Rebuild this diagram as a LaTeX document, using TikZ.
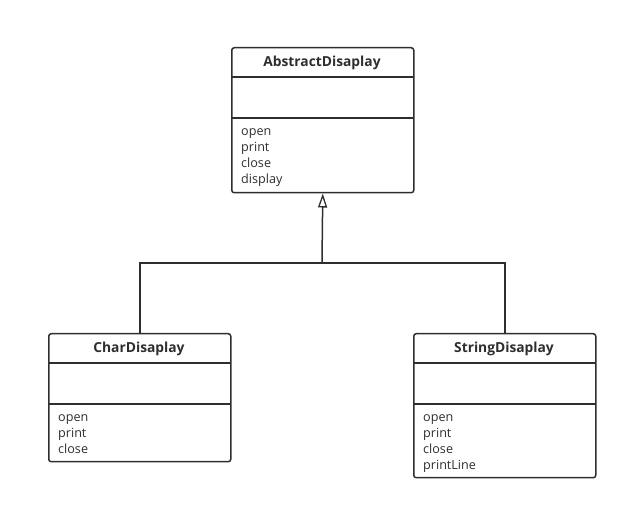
\documentclass[tikz,border=0pt]{standalone}
\usepackage{fontspec}
\setmainfont{Open Sans}
\usetikzlibrary{arrows.meta}

\begin{document}
\begin{tikzpicture}[x=1pt,y=-1pt]
	\tikzset{
		cls/.style={draw=black!82, line width=1.5pt, rounded corners=2.5pt,
			minimum width=182pt, inner sep=0pt, anchor=north west},
		title/.style={font=\fontsize{13.8}{16}\selectfont\bfseries, text=black!82},
		ops/.style={font=\fontsize{12.6}{16.3}\selectfont, text=black!82,
			align=left, anchor=north west, inner sep=0pt},
		sep/.style={draw=black!82, line width=1.5pt},
		inherit/.style={draw=black!82, line width=1.5pt,
			-{Triangle[open,length=14pt,width=9pt,line width=1.3pt]}}}
	\useasboundingbox (0,0) rectangle (627,510);
	% classes
	\node[cls, minimum height=145pt](abs) at (231,47){};
	\node[cls, minimum height=128pt](chr) at (48,333){};
	\node[cls, minimum height=144pt](str) at (413,333){};
	\node[title](absname) at (322,63){AbstractDisaplay};
	\node[title](chrname) at (139,349){CharDisaplay};
	\node[title](strname) at (504,349){StringDisaplay};
	\draw[sep](abs.north west) ++(0,30) -- ++(182,0) ++(-182,41) -- ++(182,0);
	\draw[sep](chr.north west) ++(0,30) -- ++(182,0) ++(-182,41) -- ++(182,0);
	\draw[sep](str.north west) ++(0,30) -- ++(182,0) ++(-182,41) -- ++(182,0);
	\node[ops](absops) at (241,128){open\\print\\close\\display};
	\node[ops](chrops) at (58,414){open\\print\\close};
	\node[ops](strops) at (423,414){open\\print\\close\\printLine};
	% generalisation
	\coordinate (j) at (322,263);
	\draw[sep](chr.north) |- (j) -| (str.north);
	\draw[inherit](j) -- (abs.south);
\end{tikzpicture}
\end{document}
